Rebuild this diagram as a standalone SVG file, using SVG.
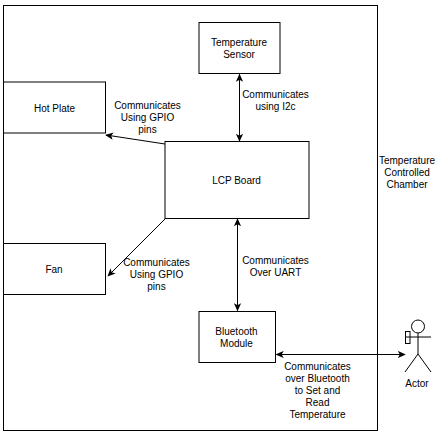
<svg xmlns="http://www.w3.org/2000/svg" width="440" height="440" viewBox="0 0 440 440">
<defs>
<marker id="a" viewBox="0 0 10 10" refX="9" refY="5" markerWidth="8" markerHeight="8" markerUnits="userSpaceOnUse" orient="auto-start-reverse"><path d="M0 0.5L10 5L0 9.5L2.5 5Z" fill="#000"/></marker>
</defs>
<style>
text{font-family:"Liberation Sans",Arial,sans-serif;font-size:10px;fill:#000;text-anchor:middle}
rect{fill:#fff;stroke:#000;stroke-width:1}
.c{fill:none;stroke:#000;stroke-width:1}
</style>
<rect width="440" height="440" style="stroke:none"/>
<g id="chamber"><rect x="3.5" y="5.5" width="374" height="425"/></g>
<g id="sensor"><rect x="199" y="22.5" width="81" height="51"/><text x="239" y="45.500">Temperature</text><text x="239" y="57.500">Sensor</text></g>
<g id="hotplate"><rect x="3.500" y="82" width="102" height="51"/><text x="54.500" y="111.500">Hot Plate</text></g>
<g id="lcp"><rect x="165" y="141.500" width="144" height="77"/><text x="236.500" y="183.500">LCP Board</text></g>
<g id="fan"><rect x="3.500" y="243.500" width="102" height="51"/><text x="54" y="272.500">Fan</text></g>
<g id="bluetooth"><rect x="199" y="311.500" width="76.500" height="51"/><text x="236.500" y="334.500">Bluetooth</text><text x="236.500" y="346.500">Module</text></g>
<g id="actor"><circle cx="418" cy="326.500" r="6.500" class="c"/><path class="c" d="M418 333V354M405 337H431M418 354L405 372M418 354L431 372"/><rect x="405.500" y="331.500" width="4.500" height="12" style="fill:none"/><text x="417" y="386.500">Actor</text></g>
<g id="connectors">
<path class="c" d="M239.500 74.500V141" marker-start="url(#a)" marker-end="url(#a)"/>
<path class="c" d="M237.500 219V310.500" marker-start="url(#a)" marker-end="url(#a)"/>
<path class="c" d="M165 144L106 135" marker-end="url(#a)"/>
<path class="c" d="M165 219L108 276" marker-end="url(#a)"/>
<path class="c" d="M276.500 354.500H405" marker-start="url(#a)" marker-end="url(#a)"/>
</g>
<g id="labels">
<text x="147.500" y="108.500">Communicates</text><text x="147.500" y="120.500">Using GPIO</text><text x="147.500" y="132.500">pins</text>
<text x="275.500" y="97.500">Communicates</text><text x="275.500" y="109.500">using I2c</text>
<text x="407" y="163.500">Temperature</text><text x="407" y="175.500">Controlled</text><text x="407" y="187.500">Chamber</text>
<text x="156.500" y="265.500">Communicates</text><text x="156.500" y="277.500">Using GPIO</text><text x="156.500" y="289.500">pins</text>
<text x="275.500" y="263.500">Communicates</text><text x="275.500" y="275.500">Over UART</text>
<text x="317.500" y="369.500">Communicates</text><text x="317.500" y="381.500">over Bluetooth</text><text x="317.500" y="393.500">to Set and</text><text x="317.500" y="405.500">Read</text><text x="317.500" y="417.500">Temperature</text>
</g>
</svg>
